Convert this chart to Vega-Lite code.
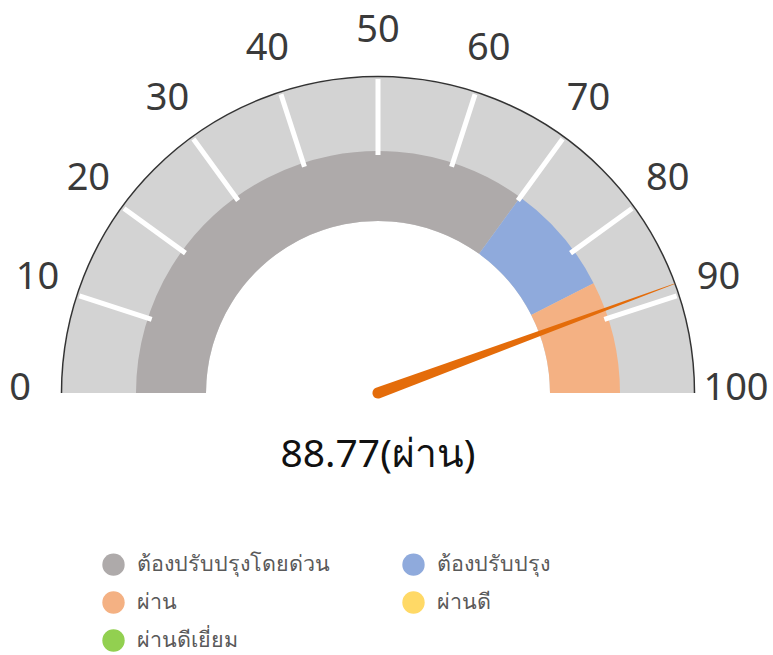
{
  "$schema": "https://vega.github.io/schema/vega-lite/v6.json",
  "width": 756,
  "height": 524,
  "autosize": {"type": "none"},
  "padding": {"left": 0, "top": 131, "right": 17, "bottom": 0},
  "background": "white",
  "config": {"view": {"stroke": null}, "font": "Noto Sans"},
  "datasets": {
    "gauge": [{"start": 0, "end": 100}],
    "bands": [
      {"category": "ต้องปรับปรุงโดยด่วน", "start": 0, "end": 70},
      {"category": "ต้องปรับปรุง", "start": 70, "end": 85},
      {"category": "ผ่าน", "start": 85, "end": 100}
    ],
    "ticks": [{"v": 10}, {"v": 20}, {"v": 30}, {"v": 40}, {"v": 50}, {"v": 60}, {"v": 70}, {"v": 80}, {"v": 90}],
    "labels": [{"v": 0}, {"v": 10}, {"v": 20}, {"v": 30}, {"v": 40}, {"v": 50}, {"v": 60}, {"v": 70}, {"v": 80}, {"v": 90}, {"v": 100}],
    "reading": [{"value": 88.77, "label": "88.77(ผ่าน)"}]
  },
  "layer": [
    {
      "data": {"name": "gauge"},
      "mark": {"type": "arc", "radius": 316, "radius2": 172, "color": "#d3d3d3"},
      "encoding": {
        "theta": {"field": "start", "type": "quantitative", "stack": null, "scale": {"domain": [0, 100], "range": [-1.5707963267948966, 1.5707963267948966]}},
        "theta2": {"field": "end"}
      }
    },
    {
      "data": {"name": "bands"},
      "mark": {"type": "arc", "radius": 242, "radius2": 172},
      "encoding": {
        "theta": {"field": "start", "type": "quantitative", "stack": null, "scale": {"domain": [0, 100], "range": [-1.5707963267948966, 1.5707963267948966]}},
        "theta2": {"field": "end"},
        "color": {
          "field": "category",
          "type": "nominal",
          "scale": {
            "domain": ["ต้องปรับปรุงโดยด่วน", "ต้องปรับปรุง", "ผ่าน", "ผ่านดี", "ผ่านดีเยี่ยม"],
            "range": ["#aeaaaa", "#8faadc", "#f4b183", "#ffd966", "#92d050"]
          },
          "legend": {
            "orient": "none",
            "direction": "horizontal",
            "legendX": 102,
            "legendY": 422,
            "columns": 2,
            "columnPadding": 72,
            "rowPadding": 15,
            "symbolType": "circle",
            "symbolSize": 500,
            "symbolStrokeWidth": 0,
            "symbolOpacity": 1,
            "labelFontSize": 21.5,
            "labelColor": "#595959",
            "labelOffset": 12,
            "labelLimit": 400,
            "title": null,
            "padding": 0
          }
        }
      }
    },
    {
      "data": {"name": "ticks"},
      "mark": {"type": "arc", "radius": 314, "radius2": 238, "filled": false, "stroke": "white", "strokeWidth": 5},
      "encoding": {
        "theta": {"field": "v", "type": "quantitative", "stack": null, "scale": {"domain": [0, 100], "range": [-1.5707963267948966, 1.5707963267948966]}},
        "theta2": {"field": "v"}
      }
    },
    {
      "data": {"name": "gauge"},
      "mark": {"type": "arc", "radius": 316.5, "radius2": 316.5, "filled": false, "stroke": "#333333", "strokeWidth": 1.5},
      "encoding": {
        "theta": {"field": "start", "type": "quantitative", "stack": null, "scale": {"domain": [0, 100], "range": [-1.5707963267948966, 1.5707963267948966]}},
        "theta2": {"field": "end"}
      }
    },
    {
      "data": {"name": "reading"},
      "mark": {
        "type": "point",
        "shape": "M -0.0175 0 L -0.001 -1 L 0.001 -1 L 0.0175 0 A 0.0175 0.0175 0 0 1 -0.0175 0 Z",
        "size": 399424,
        "filled": true,
        "color": "#e46c0a",
        "opacity": 1,
        "strokeWidth": 0
      },
      "encoding": {
        "angle": {"field": "value", "type": "quantitative", "scale": {"domain": [0, 100], "range": [-90, 90]}}
      }
    },
    {
      "data": {"name": "labels"},
      "mark": {"type": "text", "radius": 358, "dy": -4, "fontSize": 38, "color": "#3a3a3a", "align": "center", "baseline": "middle"},
      "encoding": {
        "theta": {"field": "v", "type": "quantitative", "stack": null, "scale": {"domain": [0, 100], "range": [-1.5707963267948966, 1.5707963267948966]}},
        "text": {"field": "v", "type": "quantitative"}
      }
    },
    {
      "data": {"name": "reading"},
      "mark": {"type": "text", "dy": 62, "fontSize": 39, "color": "#111111", "align": "center", "baseline": "middle"},
      "encoding": {
        "text": {"field": "label", "type": "nominal"}
      }
    }
  ]
}
